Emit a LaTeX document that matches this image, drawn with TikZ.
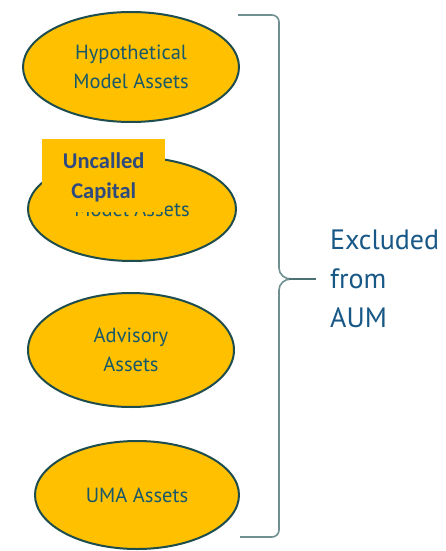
\documentclass[tikz,border=0pt]{standalone}
\usepackage{fontspec}
\setmainfont{PT Sans}
\newfontfamily\carl{Carlito}
\usetikzlibrary{shapes.geometric}
\definecolor{gold}{HTML}{FFC000}
\definecolor{rim}{HTML}{1E4D4F}
\definecolor{ink}{HTML}{17586A}
\definecolor{navy}{HTML}{2E4A7E}
\definecolor{brace}{HTML}{6F8F90}
\definecolor{lbl}{HTML}{175886}
\tikzset{
  asset/.style={ellipse, draw=rim, line width=2pt, fill=gold, text=ink,
    align=center, inner sep=0pt, font=\fontsize{20.5}{29}\selectfont},
}
\begin{document}
\begin{tikzpicture}[x=1pt,y=-1pt]
\useasboundingbox[fill=white] (0,0) rectangle (446,551);
\node[asset, minimum width=216, minimum height=110] (a1) at (131,67) {Hypothetical\\Model Assets};
\node[asset, minimum width=208, minimum height=104] (a2) at (132,209) {\raisebox{-1pt}{Model Assets}};
\node[asset, minimum width=206, minimum height=114] (a3) at (131,350) {Advisory\\Assets};
\node[asset, minimum width=204, minimum height=108] (a4) at (137,495) {UMA Assets};
\node[fill=gold, minimum width=123, minimum height=73, inner sep=0pt, anchor=north west,
  text depth=0pt, text=navy, align=center,
  font=\carl\bfseries\fontsize{22.5}{30.5}\selectfont] (uc) at (42,139) {Uncalled\\Capital};
\coordinate (tl) at (238,15);
\coordinate (bl) at (240,537);
\coordinate (tip) at (316,279);
\draw[brace, line width=1.6pt, line join=round]
  (tl) -- (272,15) to[out=0,in=90] (279,22) -- (279,268) to[out=-90,in=180] (291,279)
  to[out=180,in=90] (279,290) -- (279,530) to[out=-90,in=0] (272,537) -- (bl);
\draw[rim!80, line width=2.4pt] (289,279) -- (tip);
\node[anchor=west, text=lbl, align=left, inner sep=0pt,
  font=\fontsize{28}{39}\selectfont] (ex) at (330,279) {Excluded\\from\\AUM};
\end{tikzpicture}
\end{document}
